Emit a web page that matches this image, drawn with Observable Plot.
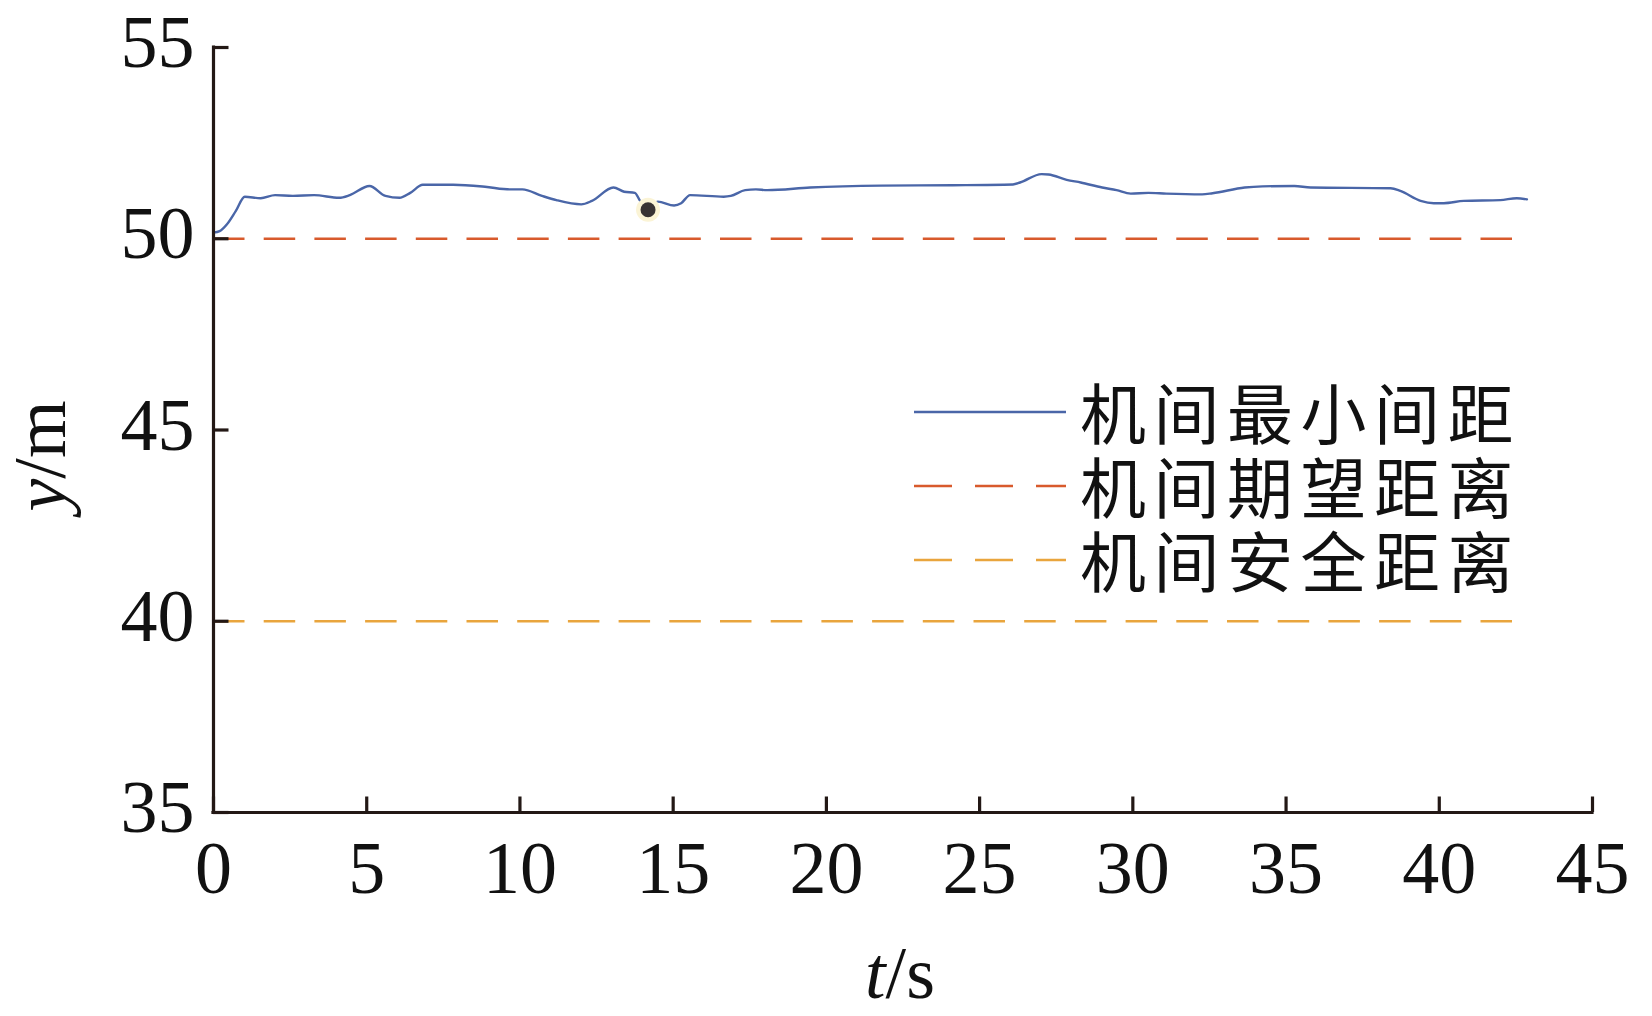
<!DOCTYPE html>
<html>
<head>
<meta charset="utf-8">
<script src="https://cdn.jsdelivr.net/npm/d3@7"></script>
<script src="https://cdn.jsdelivr.net/npm/@observablehq/plot@0.6"></script>
<style>
  html, body { margin: 0; padding: 0; background: #fff; }
  #chart svg { display: block; }
</style>
</head>
<body>
<div id="chart"></div>
<script>
// ---- data ----
const timeS = [0, 0.2, 0.44, 0.73, 1.02, 1.54, 2.01, 2.59, 3.28, 4.10, 4.45, 5.09, 5.61, 6.07, 6.42, 6.83, 7.82, 8.86, 9.68, 10.08, 10.72, 11.19, 12.0, 12.35, 13.05, 13.40, 13.75, 13.92, 14.18, 14.50, 15.03, 15.26, 15.55, 16.65, 16.88, 17.35, 17.7, 18.07, 19.47, 21.79, 24.12, 26.09, 26.32, 27.02, 27.25, 27.84, 28.30, 29.00, 29.47, 29.93, 30.51, 31.09, 32.26, 32.60, 33.65, 34.23, 35.27, 35.80, 38.41, 38.73, 39.39, 39.82, 40.15, 40.80, 41.99, 42.53, 42.86];
const minSpacing = [50.16, 50.20, 50.38, 50.73, 51.10, 51.06, 51.14, 51.12, 51.14, 51.07, 51.14, 51.38, 51.12, 51.07, 51.20, 51.41, 51.41, 51.36, 51.29, 51.29, 51.12, 51.01, 50.90, 50.99, 51.34, 51.23, 51.20, 50.99, 50.80, 50.97, 50.87, 50.93, 51.14, 51.10, 51.12, 51.27, 51.29, 51.27, 51.34, 51.39, 51.40, 51.42, 51.47, 51.69, 51.68, 51.54, 51.47, 51.34, 51.27, 51.18, 51.20, 51.18, 51.16, 51.19, 51.34, 51.37, 51.38, 51.34, 51.32, 51.25, 50.99, 50.93, 50.93, 50.99, 51.01, 51.06, 51.03];
const refLines = [
  {name: "机间期望距离", value: 50, start: 0, end: 42.5},
  {name: "机间安全距离", value: 40, start: 0, end: 42.5}
];
const markerPoint = [{t: 14.18, v: 50.76}];
const xTicks = [0, 5, 10, 15, 20, 25, 30, 35, 40, 45];
const yTicks = [35, 40, 45, 50, 55];
const legendNames = ["机间最小间距", "机间期望距离", "机间安全距离"];

// ---- styles ----
const W = 1652, H = 1016;
const mL = 213, mR = 60, mT = 47, mB = 204;
const frameW = W - mL - mR, frameH = H - mT - mB;
const axisColor = "#231815";
const blue = "#4a66a8", orange = "#d85a2c", yellow = "#e9a53d";
const serif = "'Liberation Serif', 'Times New Roman', serif";
const cjk = "'Noto Sans CJK SC', 'Noto Sans', sans-serif";
const dash = "31.5,19.2";
const legendDash = "38,23";
const colors = [blue, orange, yellow];

const lineData = timeS.map((t, i) => ({t, v: minSpacing[i]}));

const chart = Plot.plot({
  width: W,
  height: H,
  marginLeft: mL,
  marginRight: mR,
  marginTop: mT,
  marginBottom: mB,
  style: {background: "#fff", overflow: "visible"},
  x: {domain: [0, 45], axis: null},
  y: {domain: [35, 55], axis: null},
  marks: [
    Plot.ruleY(refLines, {y: "value", x1: "start", x2: "end", stroke: (d, i) => [orange, yellow][i], strokeWidth: 2.3, strokeDasharray: dash}),
    Plot.line(lineData, {x: "t", y: "v", stroke: blue, strokeWidth: 2.4, curve: "monotone-x"}),
    Plot.dot(markerPoint, {x: "t", y: "v", r: 12, fill: "#fbf4d6", stroke: "none"}),
    Plot.dot(markerPoint, {x: "t", y: "v", r: 7.5, fill: "#383334", stroke: "none"}),
    Plot.ruleX([0], {y1: 35, y2: 55, stroke: axisColor, strokeWidth: 3.2, strokeLinecap: "square"}),
    Plot.ruleY([35], {x1: 0, x2: 45, stroke: axisColor, strokeWidth: 3.2, strokeLinecap: "square"}),
    Plot.tickX(xTicks, {x: d => d, insetTop: frameH - 15.5, stroke: axisColor, strokeWidth: 3.2}),
    Plot.tickY(yTicks, {y: d => d, insetRight: frameW - 15.5, stroke: axisColor, strokeWidth: 3.2}),
    Plot.text(xTicks, {x: d => d, text: d => String(d), frameAnchor: "bottom", dy: 57, lineAnchor: "middle", fontSize: 74, fontFamily: serif, fill: "#111"}),
    Plot.text(yTicks, {y: d => d, text: d => String(d), frameAnchor: "left", textAnchor: "end", dx: -19, dy: -4, lineAnchor: "middle", fontSize: 74, fontFamily: serif, fill: "#111"})
  ]
});

document.getElementById("chart").appendChild(chart);

const svg = d3.select(chart);

// axis titles
const yTitle = svg.append("text")
  .attr("transform", "translate(65,456) rotate(-90)")
  .attr("text-anchor", "middle")
  .attr("font-family", serif)
  .attr("font-size", 74)
  .attr("fill", "#111");
yTitle.append("tspan").attr("font-style", "italic").text("y");
yTitle.append("tspan").text("/m");

const xTitle = svg.append("text")
  .attr("x", 900)
  .attr("y", 998)
  .attr("text-anchor", "middle")
  .attr("font-family", serif)
  .attr("font-size", 74)
  .attr("fill", "#111");
xTitle.append("tspan").attr("font-style", "italic").text("t");
xTitle.append("tspan").text("/s");

// legend
const legendY = [412, 486, 560];
const lg = svg.append("g");
legendNames.forEach((name, i) => {
  lg.append("line")
    .attr("x1", 914).attr("x2", 1066)
    .attr("y1", legendY[i]).attr("y2", legendY[i])
    .attr("stroke", colors[i])
    .attr("stroke-width", 2.6)
    .attr("stroke-dasharray", i === 0 ? null : legendDash);
  lg.append("text")
    .attr("x", 1080)
    .attr("y", legendY[i] - 2)
    .attr("text-anchor", "start")
    .attr("dominant-baseline", "central")
    .attr("font-family", cjk)
    .attr("font-size", 66)
    .attr("letter-spacing", 7.5)
    .attr("fill", "#111")
    .text(name);
});
</script>
</body>
</html>
